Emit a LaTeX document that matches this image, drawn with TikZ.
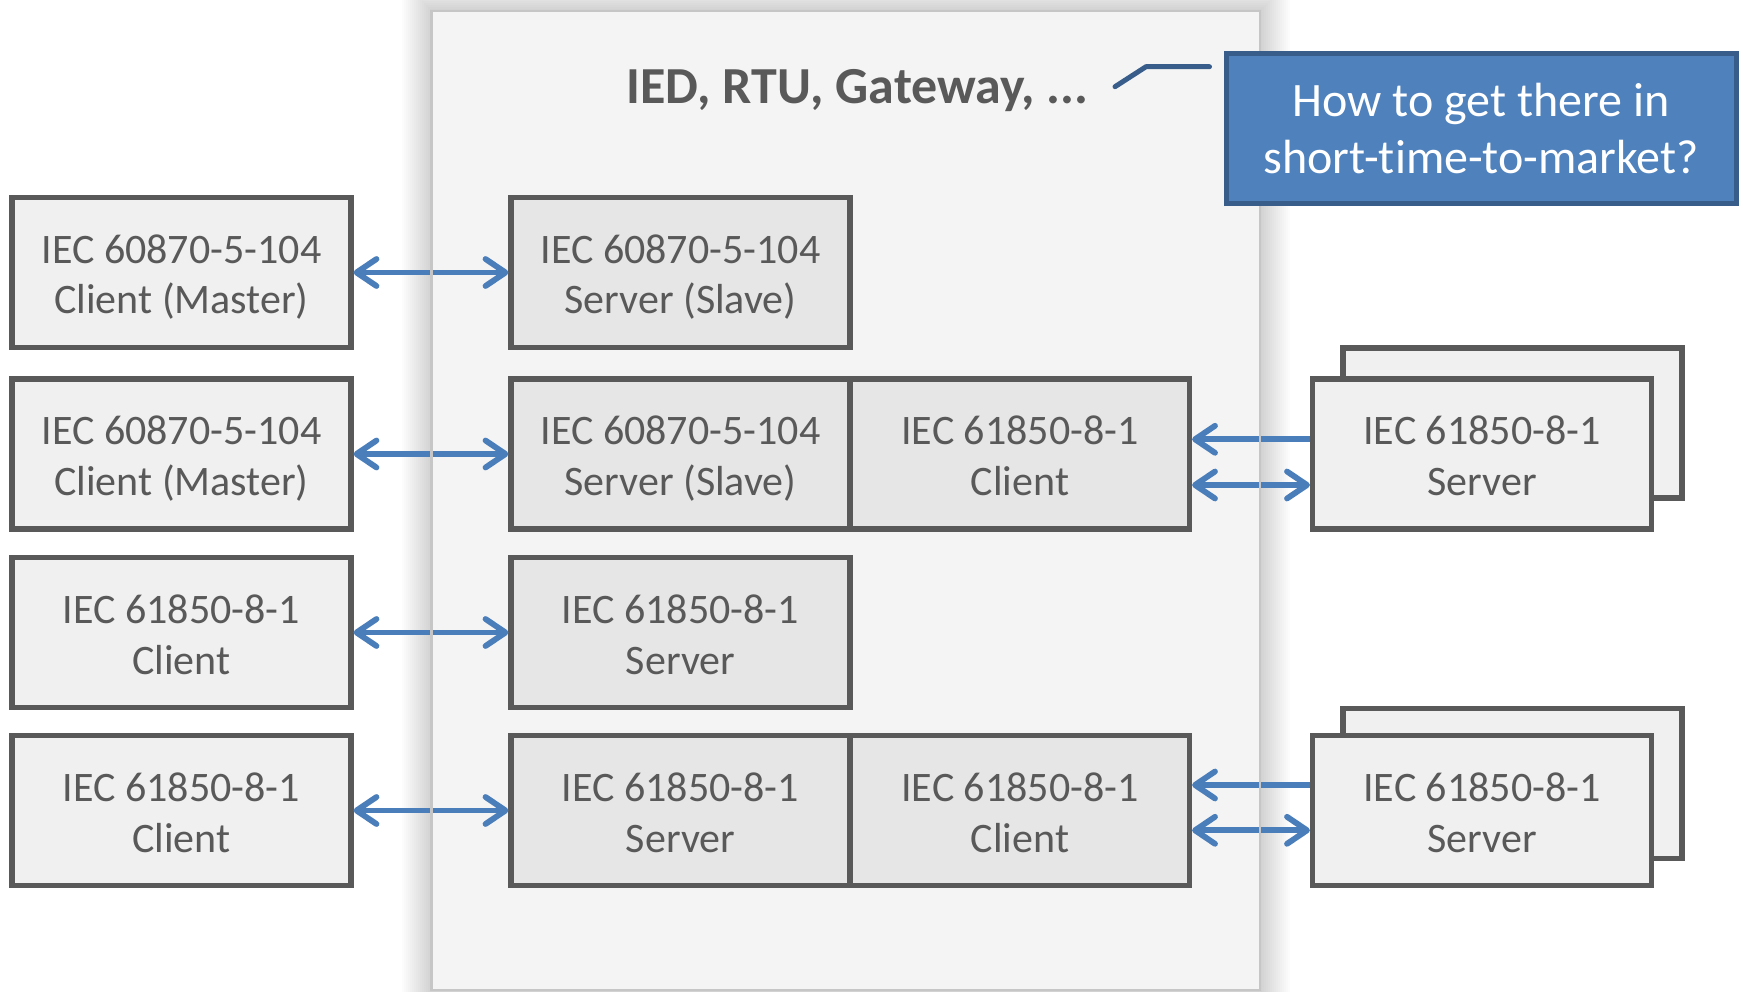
\documentclass[tikz,border=0pt]{standalone}
\usepackage{fontspec}
\setmainfont{Carlito}[Ligatures=NoCommon]
\usetikzlibrary{arrows.meta}

\definecolor{ink}{HTML}{595959}
\definecolor{boxfill}{HTML}{F0F0F0}
\definecolor{innerfill}{HTML}{E6E6E6}
\definecolor{panelfill}{HTML}{F4F4F4}
\definecolor{panelline}{HTML}{C6C6C6}
\definecolor{arrowblue}{HTML}{4A7EBB}
\definecolor{calloutfill}{HTML}{4F81BD}
\definecolor{calloutline}{HTML}{385D8A}

% two-line label with fixed line metrics, so all boxes centre alike
\newcommand\twolines[2]{\rule{0pt}{44pt}#1\\#2\rule[-12pt]{0pt}{12pt}}

\tikzset{
  protobox/.style={rectangle, draw=ink, line width=5.2pt, fill=boxfill,
    minimum width=339pt, minimum height=150pt, inner sep=0pt,
    align=center, text=ink, font=\fontsize{42}{51}\selectfont},
  innerbox/.style={protobox, fill=innerfill},
  barb/.tip={Straight Barb[length=20pt,width=27pt,round]},
  link/.style={draw=arrowblue, line width=5.8pt, barb-barb},
  backlink/.style={draw=arrowblue, line width=5.8pt, -barb},
}

\begin{document}
\begin{tikzpicture}[x=1pt,y=-1pt]
\useasboundingbox (0,0) rectangle (1743,992);
\fill[white] (0,0) rectangle (1743,992);

% soft shadow around the device panel
\foreach \i in {1,...,15}
  \fill[black, opacity=0.011] (431.5-2*\i,11-2*\i) rectangle (1260+2*\i,990+2*\i);
\fill[panelfill] (431.5,11) rectangle (1260,990);

% device title
\node[anchor=base, text=ink, font=\fontsize{52}{62}\selectfont\bfseries] (title)
  at (857.6,103.5) {IED, RTU, Gateway, ...};

% left column: external clients
\node[protobox] (l1) at (181.5,272.5) {\twolines{IEC 60870-5-104}{Client (Master)}};
\node[protobox] (l2) at (181.5,454)   {\twolines{IEC 60870-5-104}{Client (Master)}};
\node[protobox] (l3) at (181.5,632.5) {\twolines{IEC 61850-8-1}{Client}};
\node[protobox] (l4) at (181.5,810.5) {\twolines{IEC 61850-8-1}{Client}};

% inside the device
\node[innerbox] (m1)  at (680.5,272.5) {\twolines{IEC 60870-5-104}{Server (Slave)}};
\node[innerbox] (m2a) at (680.5,454)   {\twolines{IEC 60870-5-104}{Server (Slave)}};
\node[innerbox] (m2b) at (1020,454)    {\twolines{IEC 61850-8-1}{Client}};
\node[innerbox] (m3)  at (680.5,632.5) {\twolines{IEC 61850-8-1}{Server}};
\node[innerbox] (m4a) at (680.5,810.5) {\twolines{IEC 61850-8-1}{Server}};
\node[innerbox] (m4b) at (1020,810.5)  {\twolines{IEC 61850-8-1}{Client}};

% right column: stacked external servers
\node[protobox] (s2) at (1512.5,423)   {};
\node[protobox] (r2) at (1482,454)     {\twolines{IEC 61850-8-1}{Server}};
\node[protobox] (s4) at (1512.5,783.5) {};
\node[protobox] (r4) at (1482,810.5)   {\twolines{IEC 61850-8-1}{Server}};

% connections
\draw[link] (l1.east) -- (m1.west);
\draw[link] (l2.east) -- (m2a.west);
\draw[link] (l3.east) -- (m3.west);
\draw[link] (l4.east) -- (m4a.west);

\draw[backlink] ([yshift=14.7pt]r2.west) -- ([yshift=14.7pt]m2b.east);
\draw[link]     ([yshift=-31pt]r2.west)  -- ([yshift=-31pt]m2b.east);
\draw[backlink] ([yshift=25.5pt]r4.west) -- ([yshift=25.5pt]m4b.east);
\draw[link]     ([yshift=-19.8pt]r4.west) -- ([yshift=-19.8pt]m4b.east);

% panel outline over the connectors
\draw[panelline, line width=2.5pt] (431.5,11) rectangle (1260,990);

% callout
\node[rectangle, draw=calloutline, fill=calloutfill, line width=5pt,
  minimum width=510pt, minimum height=149.5pt, inner sep=0pt,
  text=white, align=center, font=\fontsize{48}{57}\selectfont] (q)
  at (1481.25,128.5) {How to get there in\\short-time-to-market?};
\coordinate (c1) at (1115,86.7);
\coordinate (c2) at (1146,66.7);
\coordinate (c3) at (1209.5,66.7);
\draw[calloutline, line width=5pt, line cap=round, line join=round]
  (c1) -- (c2) -- (c3);
\end{tikzpicture}
\end{document}
